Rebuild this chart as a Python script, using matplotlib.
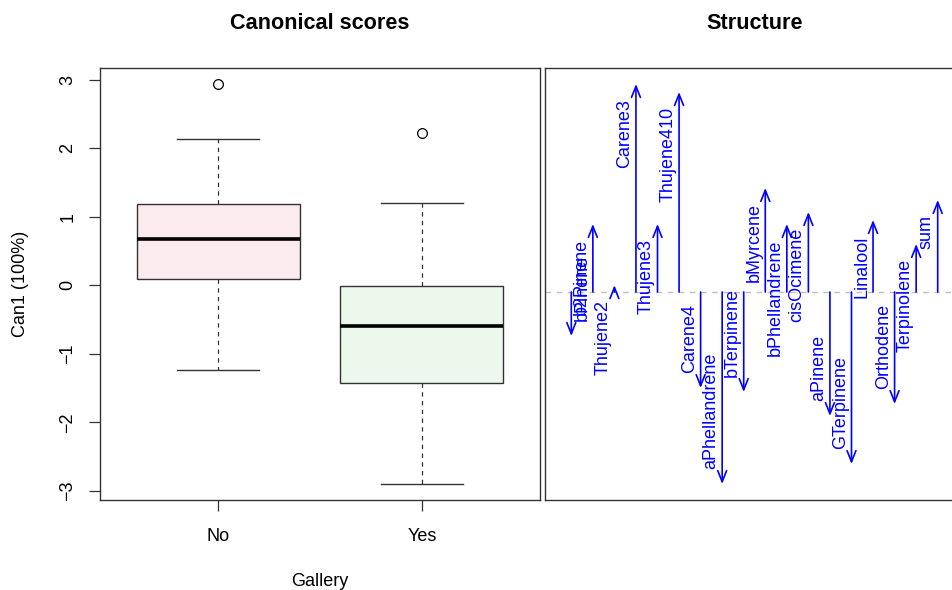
import numpy as np
import matplotlib.pyplot as plt

plt.rcParams['font.family'] = ['Liberation Sans', 'DejaVu Sans']

# Can1 scores by Gallery, box summaries
groups = ['No', 'Yes']
q1 = [0.10, -1.42]
med = [0.67, -0.60]
q3 = [1.19, -0.01]
whis_lo = [-1.23, -2.90]
whis_hi = [2.14, 1.20]
outliers = [[2.94], [2.23]]
box_colors = ['#fbebee', '#edf8ec']

# structure coefficients, in plotting order
variables = ['bPinene', 'b2Pinene', 'Thujene2', 'Carene3', 'Thujene3', 'Thujene410',
             'Carene4', 'aPhellandrene', 'bTerpinene', 'bMyrcene', 'bPhellandrene',
             'cisOcimene', 'aPinene', 'GTerpinene', 'Linalool', 'Orthodene',
             'Terpinolene', 'sum']
structure = [-0.11, 0.17, 0.017, 0.52, 0.17, 0.50,
             -0.24, -0.48, -0.25, 0.26, 0.17,
             0.20, -0.31, -0.43, 0.18, -0.28,
             0.12, 0.23]

W, H = 953, 590
fig = plt.figure(figsize=(W / 100, H / 100), dpi=100)
ax = fig.add_axes([100 / W, 90 / H, 440 / W, 432 / H])
ax2 = fig.add_axes([545 / W, 90 / H, 419 / W, 432 / H])

edge = '#333333'
fs = 13

# ---- left: boxplot of canonical scores
stats = []
for i in range(len(groups)):
    stats.append(dict(med=med[i], q1=q1[i], q3=q3[i], whislo=whis_lo[i],
                      whishi=whis_hi[i], fliers=outliers[i]))
bp = ax.bxp(stats, positions=[1, 2], widths=0.8, capwidths=0.4, patch_artist=True,
            boxprops=dict(edgecolor=edge, linewidth=1.0),
            medianprops=dict(color='black', linewidth=2.6, solid_capstyle='butt'),
            whiskerprops=dict(color=edge, linewidth=0.9, linestyle=(0, (3.5, 3.5))),
            capprops=dict(color=edge, linewidth=1.0),
            flierprops=dict(marker='o', markerfacecolor='none', markeredgecolor='black',
                            markersize=7, markeredgewidth=0.9))
for patch, c in zip(bp['boxes'], box_colors):
    patch.set_facecolor(c)

allv = whis_lo + whis_hi + [v for o in outliers for v in o]
lo, hi = min(allv), max(allv)
pad = 0.04 * (hi - lo)
ax.set_ylim(lo - pad, hi + pad)
ax.set_xlim(0.5 - 0.08, len(groups) + 0.5 + 0.08)
ax.set_xticks([1, 2])
ax.set_xticklabels(groups)
ax.set_yticks(np.arange(-3, 4))
ax.set_yticklabels([str(t).replace('-', '\u2212') for t in range(-3, 4)])
ax.tick_params(axis='x', length=8, width=0.9, color=edge, pad=12, labelsize=fs)
ax.tick_params(axis='y', length=8, width=0.9, color=edge, pad=9, labelsize=fs,
               labelrotation=90)
for lab in ax.get_yticklabels():
    lab.set_va('center')
for s in ax.spines.values():
    s.set_color(edge)
    s.set_linewidth(1.0)
ax.set_title('Canonical scores', fontsize=15.6, fontweight='bold', pad=28)
fig.text(21 / W, 1 - 284 / H, 'Can1 (100%)', rotation=90, ha='center', va='center',
         fontsize=fs)
fig.text(320 / W, 1 - 581 / H, 'Gallery', ha='center', va='center', fontsize=fs)

# ---- right: structure arrows
n = len(variables)
xs = np.arange(1, n + 1)
ax2.axhline(0, color='#bebebe', linewidth=1.0, linestyle=(0, (4, 4)))
for i, (name, v) in enumerate(zip(variables, structure)):
    ax2.annotate('', xy=(xs[i], v), xytext=(xs[i], 0),
                 arrowprops=dict(arrowstyle='->,head_length=0.8,head_width=0.32',
                                 color='blue', linewidth=1.2, shrinkA=0, shrinkB=0))
    # first label sits to the right of its arrow, the rest to the left
    side = 1 if i == 0 else -1
    ax2.annotate(name, xy=(xs[i], v), xytext=(side * 2, -11 if v > 0 else 11),
                 textcoords='offset points', rotation=90, rotation_mode='anchor',
                 ha='right' if v > 0 else 'left', va='top' if side > 0 else 'bottom',
                 color='blue', fontsize=fs)
slo, shi = min(structure), max(structure)
spad = 0.04 * (shi - slo)
ax2.set_ylim(slo - spad, shi + spad)
xpad = 0.04 * n
ax2.set_xlim(0.5 - xpad, n + 0.5 + xpad)
ax2.set_xticks([])
ax2.set_yticks([])
for s in ax2.spines.values():
    s.set_color(edge)
    s.set_linewidth(1.0)
ax2.set_title('Structure', fontsize=15.6, fontweight='bold', pad=28)

fig.savefig('out.png', dpi=100)
